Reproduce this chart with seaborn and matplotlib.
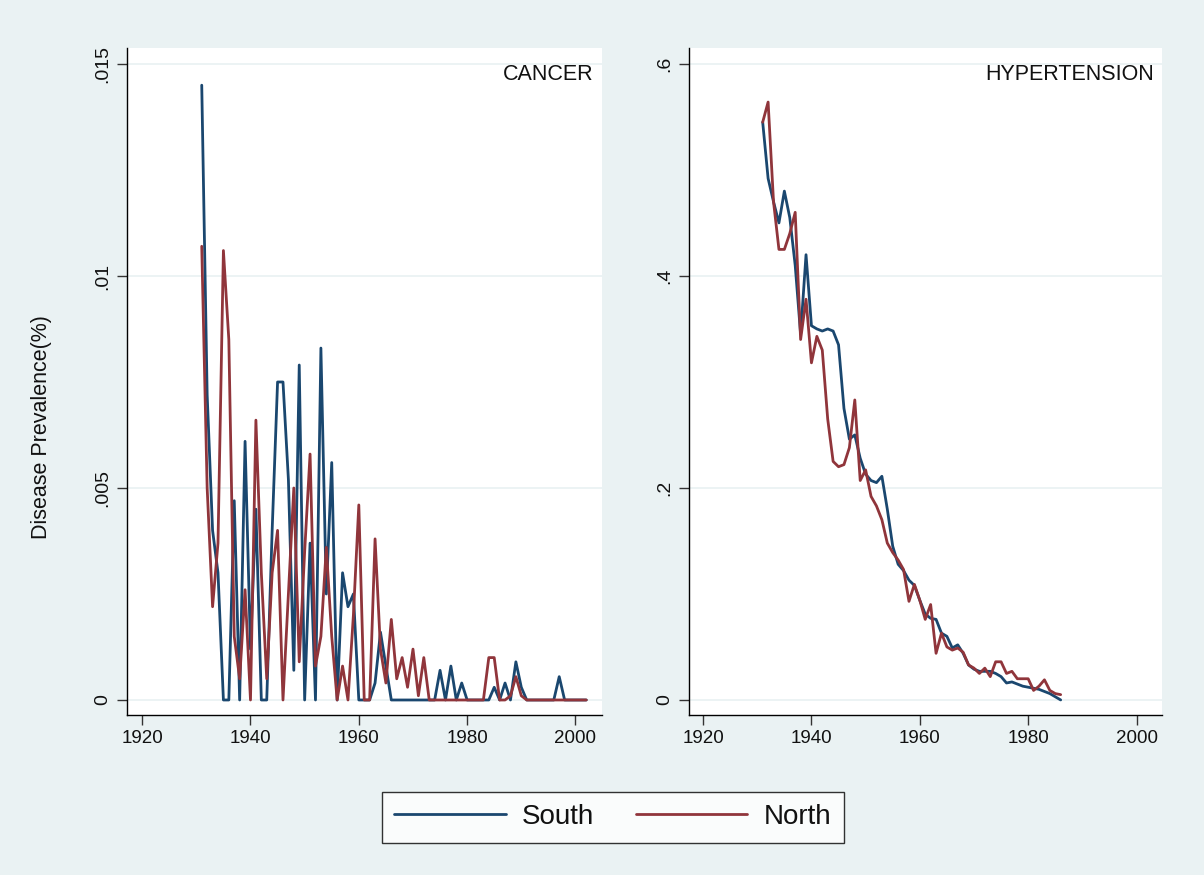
import numpy as np
import pandas as pd
import matplotlib
matplotlib.use("Agg")
import matplotlib.pyplot as plt
import seaborn as sns

# ---------------- data ----------------
cancer_years = list(range(1931, 2003))
cancer_south = [0.0145, 0.0072, 0.0040, 0.0030, 0.0, 0.0, 0.0047, 0.0, 0.0061, 0.0012,
                0.0045, 0.0, 0.0, 0.0040, 0.0075, 0.0075, 0.0052, 0.0007, 0.0079, 0.0,
                0.0037, 0.0, 0.0083, 0.0025, 0.0056, 0.0, 0.0030, 0.0022, 0.0025, 0.0,
                0.0, 0.0, 0.0004, 0.0016, 0.0008, 0.0, 0.0, 0.0, 0.0, 0.0,
                0.0, 0.0, 0.0, 0.0, 0.0007, 0.0, 0.0008, 0.0, 0.0004, 0.0,
                0.0, 0.0, 0.0, 0.0, 0.0003, 0.0, 0.0004, 0.0, 0.0009, 0.0003,
                0.0, 0.0, 0.0, 0.0, 0.0, 0.0, 0.00055, 0.0, 0.0, 0.0,
                0.0, 0.0]
cancer_north = [0.0107, 0.0050, 0.0022, 0.0037, 0.0106, 0.0085, 0.0015, 0.0005, 0.0026, 0.0,
                0.0066, 0.0030, 0.0005, 0.0030, 0.0040, 0.0, 0.0025, 0.0050, 0.0009, 0.0035,
                0.0058, 0.0008, 0.0015, 0.0036, 0.0015, 0.0, 0.0008, 0.0, 0.0020, 0.0046,
                0.0, 0.0, 0.0038, 0.0012, 0.0004, 0.0019, 0.0005, 0.0010, 0.0003, 0.0012,
                0.0001, 0.0010, 0.0, 0.0, 0.0, 0.0, 0.0, 0.0, 0.0, 0.0,
                0.0, 0.0, 0.0, 0.0010, 0.0010, 0.0, 0.0, 0.0001, 0.00055, 0.0001,
                0.0, 0.0, 0.0, 0.0, 0.0, 0.0, 0.0, 0.0, 0.0, 0.0,
                0.0, 0.0]

hyper_years = list(range(1931, 1987))
hyper_south = [0.545, 0.492, 0.470, 0.450, 0.480, 0.455, 0.410, 0.345, 0.420, 0.353,
               0.350, 0.348, 0.350, 0.348, 0.335, 0.275, 0.246, 0.250, 0.228, 0.213,
               0.207, 0.205, 0.211, 0.180, 0.145, 0.128, 0.122, 0.113, 0.108, 0.094,
               0.081, 0.077, 0.076, 0.063, 0.060, 0.049, 0.052, 0.044, 0.033, 0.029,
               0.027, 0.027, 0.027, 0.025, 0.022, 0.016, 0.017, 0.015, 0.013, 0.012,
               0.011, 0.010, 0.008, 0.006, 0.003, 0.000]
hyper_north = [0.545, 0.564, 0.470, 0.425, 0.425, 0.440, 0.460, 0.340, 0.378, 0.318,
               0.343, 0.330, 0.265, 0.225, 0.220, 0.222, 0.238, 0.283, 0.207, 0.217,
               0.192, 0.183, 0.170, 0.148, 0.139, 0.132, 0.123, 0.093, 0.109, 0.094,
               0.076, 0.090, 0.044, 0.063, 0.050, 0.047, 0.049, 0.045, 0.033, 0.030,
               0.025, 0.030, 0.022, 0.036, 0.036, 0.025, 0.027, 0.020, 0.020, 0.020,
               0.009, 0.013, 0.019, 0.009, 0.006, 0.005]

regions = ["South", "North"]
panel_titles = ["CANCER", "HYPERTENSION"]
x_ticks = [1920, 1940, 1960, 1980, 2000]
cancer_yticks = [0, 0.005, 0.01, 0.015]
cancer_ylabels = ["0", ".005", ".01", ".015"]
hyper_yticks = [0, 0.2, 0.4, 0.6]
hyper_ylabels = ["0", ".2", ".4", ".6"]
y_title = "Disease Prevalence(%)"

# ---------------- frames ----------------
def long_frame(years, south, north):
    assert len(years) == len(south) == len(north)
    return pd.concat([
        pd.DataFrame({"year": years, "value": south, "region": "South"}),
        pd.DataFrame({"year": years, "value": north, "region": "North"}),
    ], ignore_index=True)

df_cancer = long_frame(cancer_years, cancer_south, cancer_north)
df_hyper = long_frame(hyper_years, hyper_south, hyper_north)

# ---------------- style ----------------
sns.set_theme(style="white")
plt.rcParams["font.family"] = ["Liberation Sans", "DejaVu Sans"]

BG = "#EAF2F3"
TXT = "#111111"
palette = {"South": "#1A476F", "North": "#90353B"}

W, H = 1204, 875
fig = plt.figure(figsize=(W / 100, H / 100), dpi=100, facecolor=BG)

def fx(px):
    return px / W

def fy(py):
    return 1 - py / H

top, bottom = 48, 715
ax1 = fig.add_axes([fx(127), fy(bottom), fx(602) - fx(127), (bottom - top) / H])
ax2 = fig.add_axes([fx(689), fy(bottom), fx(1162) - fx(689), (bottom - top) / H])

specs = [
    (ax1, df_cancer, cancer_yticks, cancer_ylabels, (-0.000354, 0.015377), (1917.2, 2004.9), panel_titles[0]),
    (ax2, df_hyper, hyper_yticks, hyper_ylabels, (-0.0142, 0.615), (1917.4, 2004.7), panel_titles[1]),
]

for ax, df, yt, yl, ylim, xlim, title in specs:
    ax.set_facecolor("white")
    sns.lineplot(data=df, x="year", y="value", hue="region", hue_order=regions,
                 palette=palette, ax=ax, linewidth=2.0, legend=False,
                 estimator=None, sort=True)
    ax.set_xlim(*xlim)
    ax.set_ylim(*ylim)
    ax.set_xticks(x_ticks)
    ax.set_xticklabels([str(t) for t in x_ticks], fontsize=13.5, color=TXT)
    ax.set_yticks(yt)
    ax.set_yticklabels(yl, rotation=90, va="center", fontsize=14, color=TXT)
    ax.grid(axis="y", color=BG, linewidth=1.3)
    ax.grid(axis="x", visible=False)
    ax.set_axisbelow(True)
    for s in ["top", "right"]:
        ax.spines[s].set_visible(False)
    for s in ["left", "bottom"]:
        ax.spines[s].set_visible(True)
        ax.spines[s].set_color("black")
        ax.spines[s].set_linewidth(1.0)
    ax.tick_params(axis="both", which="major", direction="out", length=7, width=1,
                   color="#333333", bottom=True, left=True, pad=4)
    ax.set_xlabel("")
    ax.set_ylabel("")
    ax.text(0.983, 0.976, title, transform=ax.transAxes, ha="right", va="top",
            fontsize=15.5, color=TXT)

fig.text(fx(42), fy(427), y_title, rotation=90, ha="center", va="center",
         fontsize=15.5, color=TXT)

handles = [matplotlib.lines.Line2D([], [], color=palette[r], linewidth=2.0) for r in regions]
leg = fig.legend(handles, regions, loc="center", bbox_to_anchor=(fx(613), fy(817)),
                 ncol=2, frameon=True, fancybox=False, fontsize=20,
                 handlelength=4.0, handletextpad=0.6, columnspacing=1.5,
                 borderpad=0.45, borderaxespad=0, labelcolor=TXT)
leg.get_frame().set_edgecolor("black")
leg.get_frame().set_linewidth(1.0)
leg.get_frame().set_facecolor("white")

fig.savefig("out.png", dpi=100, facecolor=BG)
